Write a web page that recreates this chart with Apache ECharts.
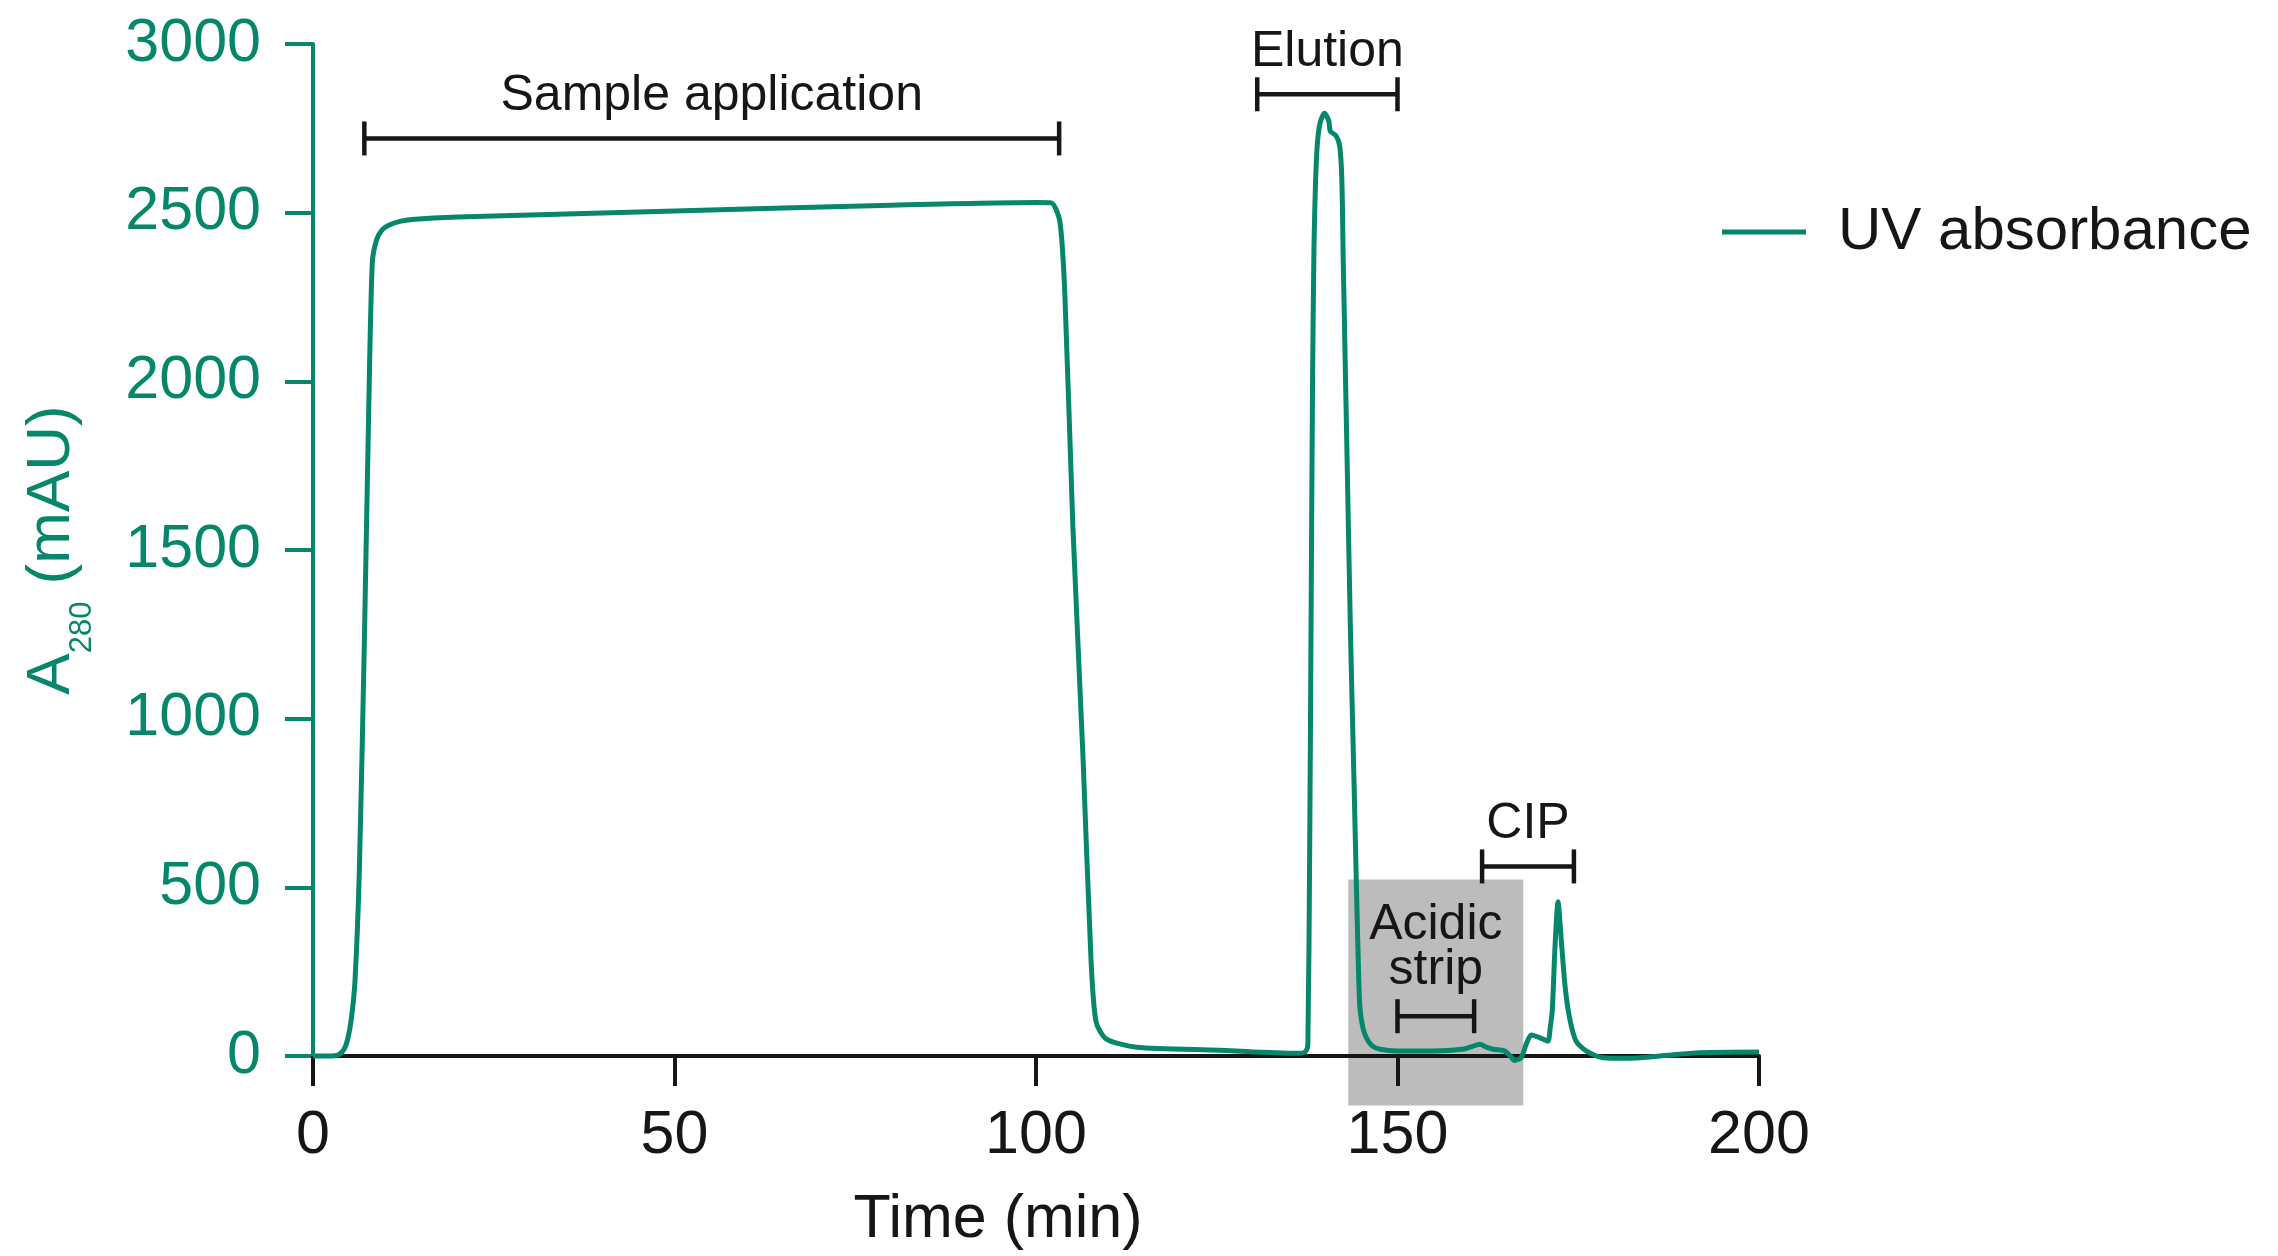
<!DOCTYPE html>
<html>
<head>
<meta charset="utf-8">
<script src="https://cdn.jsdelivr.net/npm/echarts@6/dist/echarts.min.js"></script>
<style>
  html, body { margin: 0; padding: 0; background: #fff; }
  #chart { width: 2278px; height: 1256px; }
</style>
</head>
<body>
<div id="chart"></div>
<script>
// UV trace (min, mAU)
const timeMin = [
  0, 3, 3.6, 4.3, 4.8, 5.3, 5.8, 6.4, 7.1, 7.7, 8.2, 8.8, 9.6, 10.4, 12, 13.7, 20, 50, 80, 100,
  102.1, 103.3, 104.0, 105.1, 106.5, 107.6, 108.3, 109.7, 113.9, 125.4, 130, 136.5,
  137.3, 137.6, 137.85, 138.05, 138.25, 138.45, 138.65, 138.9, 139.3, 139.9, 140.5, 140.7, 141.5, 142.0, 142.3, 142.5,
  143.0, 143.5, 144.0, 144.3, 144.6, 144.8, 145.2, 145.7, 146.5, 147.6, 149.9, 155, 159,
  160.3, 161.4, 162.2, 163.2, 164.8, 165.6, 166.2, 167.1, 167.8, 168.5, 169.7, 170.8,
  171.1, 171.4, 171.8, 172.2, 172.7, 173.2, 173.8, 174.7, 176.1, 178.4, 181.7, 186.3, 191.8, 200
];
const absorbance = [
  0, 1, 4, 20, 50, 110, 220, 543, 1225, 1908, 2352, 2420, 2450, 2462, 2474, 2480, 2487, 2505, 2522, 2530,
  2529, 2474, 2253, 1570, 887, 290, 102, 51, 26, 17, 12, 8,
  14, 35, 600, 1300, 2000, 2400, 2580, 2700, 2767, 2795, 2772, 2742, 2728, 2698, 2600, 2353,
  1800, 1250, 800, 518, 260, 143, 85, 54, 30, 20, 15, 15, 20,
  28, 35, 27, 20, 15, 0, -13, -5, 35, 62, 54, 44,
  80, 133, 330, 457, 330, 202, 113, 44, 15, -5, -7, 0, 10, 12
];

// phase brackets: [start min, end min, level mAU]
const bracketNames = ['Sample application', 'Elution', 'CIP', 'Acidic\nstrip'];
const bracketStart = [7.1, 130.6, 161.7, 150];
const bracketEnd = [103.2, 150, 174.4, 160.6];
const bracketLevel = [2720, 2851, 562, 118];

// shaded acidic strip window: [start, end, bottom, top]
const stripBox = [[143.2, 167.4, -147, 523]];

const xTicks = { min: 0, max: 200, interval: 50 };
const yTicks = { min: 0, max: 3000, interval: 500 };

const teal = '#06866b';
const ink = '#161616';
const font = "'Liberation Sans', Arial, sans-serif";

const chart = echarts.init(document.getElementById('chart'));

function renderBracket(params, api) {
  const i = params.dataIndex;
  const a = api.coord([api.value(0), api.value(2)]);
  const b = api.coord([api.value(1), api.value(2)]);
  const h = 17;
  const ln = (x1, y1, x2, y2) => ({
    type: 'line',
    shape: { x1: x1, y1: y1, x2: x2, y2: y2 },
    style: { stroke: ink, lineWidth: 4.5 }
  });
  const twoLines = bracketNames[i].indexOf('\n') >= 0;
  return {
    type: 'group',
    children: [
      ln(a[0], a[1], b[0], b[1]),
      ln(a[0], a[1] - h, a[0], a[1] + h),
      ln(b[0], b[1] - h, b[0], b[1] + h),
      {
        type: 'text',
        style: {
          text: bracketNames[i],
          x: (a[0] + b[0]) / 2,
          y: twoLines ? a[1] - 23 : a[1] - 42,
          align: 'center',
          verticalAlign: twoLines ? 'bottom' : 'middle',
          fontSize: 50,
          lineHeight: 45,
          fontFamily: font,
          fill: ink
        }
      }
    ]
  };
}

function renderBox(params, api) {
  const p1 = api.coord([api.value(0), api.value(3)]);
  const p2 = api.coord([api.value(1), api.value(2)]);
  return {
    type: 'rect',
    shape: { x: p1[0], y: p1[1], width: p2[0] - p1[0], height: p2[1] - p1[1] },
    style: { fill: '#bcbcbc' }
  };
}

const option = {
  animation: false,
  backgroundColor: '#fff',
  grid: { left: 313, right: 519, top: 44, bottom: 200, containLabel: false },
  legend: {
    left: 1717,
    top: 197,
    icon: 'rect',
    itemWidth: 84,
    itemHeight: 5,
    data: ['UV absorbance'],
    textStyle: { fontSize: 60, color: ink, fontFamily: font, padding: [0, 0, 0, 27] }
  },
  xAxis: {
    type: 'value',
    min: xTicks.min,
    max: xTicks.max,
    interval: xTicks.interval,
    z: 3,
    name: 'Time (min)',
    nameLocation: 'middle',
    nameGap: 134,
    nameTextStyle: { fontSize: 61, color: ink, fontFamily: font, padding: [0, 76, 0, 0] },
    axisLine: { show: true, lineStyle: { color: ink, width: 4 } },
    axisTick: { show: true, length: 30, lineStyle: { color: ink, width: 4 } },
    axisLabel: { fontSize: 61, color: ink, fontFamily: font, margin: 50 },
    splitLine: { show: false }
  },
  yAxis: {
    type: 'value',
    min: yTicks.min,
    max: yTicks.max,
    interval: yTicks.interval,
    z: 3,
    name: '{a|A}{s|280}{a| (mAU)}',
    nameLocation: 'middle',
    nameGap: 230,
    nameTextStyle: {
      fontFamily: font,
      color: teal,
      rich: {
        a: { fontSize: 62, lineHeight: 62, color: teal, fontFamily: font, verticalAlign: 'top' },
        s: { fontSize: 31, lineHeight: 31, color: teal, fontFamily: font, verticalAlign: 'top', padding: [46, 0, 0, 0] }
      }
    },
    axisLine: { show: true, lineStyle: { color: teal, width: 4 } },
    axisTick: { show: true, length: 28, lineStyle: { color: teal, width: 4 } },
    axisLabel: { fontSize: 61, color: teal, fontFamily: font, margin: 52, formatter: v => String(v) },
    splitLine: { show: false }
  },
  series: [
    {
      type: 'custom',
      name: 'strip box',
      z: 1,
      clip: false,
      silent: true,
      renderItem: renderBox,
      data: stripBox
    },
    {
      type: 'line',
      name: 'UV absorbance',
      z: 4,
      clip: false,
      symbol: 'none',
      smooth: 0.25,
      color: teal,
      lineStyle: { color: teal, width: 5 },
      data: timeMin.map((t, i) => [t, absorbance[i]])
    },
    {
      type: 'custom',
      name: 'phases',
      z: 5,
      clip: false,
      silent: true,
      renderItem: renderBracket,
      data: bracketNames.map((n, i) => [bracketStart[i], bracketEnd[i], bracketLevel[i]])
    }
  ]
};

chart.setOption(option);
</script>
</body>
</html>
